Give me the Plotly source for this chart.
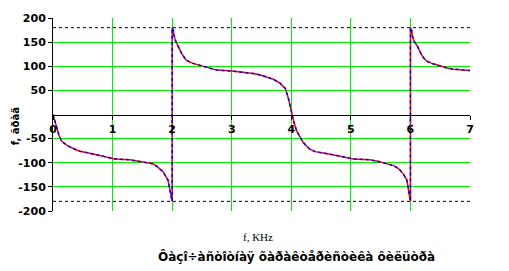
import plotly.graph_objects as go

# Phase response (f in kHz, phase in degrees)
freq = [0.0, 0.02, 0.05, 0.08, 0.10, 0.14, 0.18, 0.25, 0.35, 0.45, 0.6, 0.78, 1.04, 1.29, 1.45, 1.6, 1.68, 1.75,
        1.85, 1.93, 1.96, 1.99, 2.0,
        2.0, 2.02, 2.03, 2.06, 2.10, 2.13, 2.16, 2.2, 2.24, 2.35, 2.46, 2.6, 2.75, 3.0, 3.2, 3.36, 3.48, 3.59,
        3.7, 3.81, 3.9, 3.95, 4.0,
        4.04, 4.09, 4.15, 4.2, 4.31, 4.4, 4.54, 4.65, 4.76, 5.04, 5.2, 5.32, 5.45, 5.55, 5.65, 5.72, 5.8,
        5.88, 5.94, 5.97, 6.0,
        6.0, 6.02, 6.03, 6.06, 6.11, 6.15, 6.19, 6.23, 6.28, 6.38, 6.5, 6.6, 6.72, 6.85, 6.95, 7.0]
phase = [0, -10, -22, -34, -43, -54, -59, -65, -71, -76, -80, -85, -92, -94, -97, -100, -102, -108,
         -119, -136, -160, -174, -180,
         180, 174, 164, 152, 143, 134, 126, 118, 112, 106, 102, 96, 92, 90, 88, 85, 82, 78,
         73, 65, 54, 34, 7,
         -14, -34, -47, -58, -72, -77, -80, -83, -85, -92, -93, -94, -97, -100, -103, -106, -112,
         -123, -136, -157, -180,
         180, 174, 164, 152, 143, 132, 123, 116, 110, 105, 100, 97, 94, 93, 92, 91]

limits = [180, -180]
x_ticks = [0, 1, 2, 3, 4, 5, 6, 7]
y_ticks = [-200, -150, -100, -50, 50, 100, 150, 200]

title_text = "Ôàçî÷àñòîòíàÿ õàðàêòåðèñòèêà ôèëüòðà"
x_title = "f, KHz"
y_title = "f, ãðàä"

fig = go.Figure()
fig.add_trace(go.Scatter(x=freq, y=phase, mode="lines",
                         line=dict(color="red", width=1.5), showlegend=False))
fig.add_trace(go.Scatter(x=freq, y=phase, mode="lines",
                         line=dict(color="blue", width=1.5, dash="3px,3px"), showlegend=False))

for lv in limits:
    fig.add_shape(type="line", xref="x", yref="y", x0=x_ticks[0], x1=x_ticks[-1], y0=lv, y1=lv,
                  line=dict(color="black", width=1, dash="3px,3px"))

tick_font = dict(family="DejaVu Sans", size=11, color="black", weight="bold")

fig.update_layout(
    width=509, height=271,
    margin=dict(l=53, r=39, t=15, b=60),
    paper_bgcolor="white", plot_bgcolor="white",
    xaxis=dict(range=[0, 7], tickvals=x_ticks, ticktext=[str(v) for v in x_ticks],
               anchor="free", position=0.5, showline=True, linecolor="black", linewidth=1,
               ticks="outside", ticklen=4, tickcolor="black",
               showgrid=True, gridcolor="#00f000", gridwidth=1, zeroline=False,
               tickfont=tick_font),
    yaxis=dict(range=[-200, 200], tickvals=y_ticks, ticktext=[str(v) for v in y_ticks],
               showline=True, linecolor="black", linewidth=1,
               ticks="outside", ticklen=4, tickcolor="black",
               showgrid=True, gridcolor="#00f000", gridwidth=1, zeroline=False,
               tickfont=tick_font),
)

fig.add_annotation(text=x_title, xref="paper", yref="paper", x=(258 - 53) / 417, y=-(237 - 211) / 196,
                   showarrow=False, font=dict(family="Liberation Serif", size=11, color="black"),
                   xanchor="center", yanchor="middle")
fig.add_annotation(text=y_title, xref="paper", yref="paper", x=-(53 - 15) / 417, y=(211 - 125) / 196,
                   showarrow=False, textangle=-90,
                   font=dict(family="DejaVu Sans", size=10, color="black", weight="bold"),
                   xanchor="center", yanchor="middle")
fig.add_annotation(text=title_text, xref="paper", yref="paper", x=(296 - 53) / 417, y=-(257 - 211) / 196,
                   showarrow=False, font=dict(family="DejaVu Sans", size=12, color="black", weight="bold"),
                   xanchor="center", yanchor="middle")

fig.write_html("out.html")
